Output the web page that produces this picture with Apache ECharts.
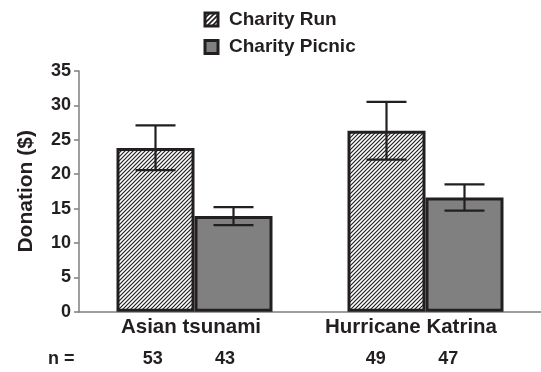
<!DOCTYPE html>
<html>
<head>
<meta charset="utf-8">
<script src="https://cdn.jsdelivr.net/npm/echarts@6/dist/echarts.min.js"></script>
<style>
  html, body { margin: 0; padding: 0; background: #fff; }
  #chart { width: 541px; height: 372px; }
</style>
</head>
<body>
<div id="chart"></div>
<script>
// Mean donations per event, with error bar bounds and group sizes
var categories = ['Asian tsunami', 'Hurricane Katrina'];
var seriesNames = ['Charity Run', 'Charity Picnic'];
var runMeans = [23.8, 26.3];
var runLow = [20.6, 22.1];
var runHigh = [27.1, 30.5];
var picnicMeans = [13.9, 16.6];
var picnicLow = [12.6, 14.7];
var picnicHigh = [15.2, 18.5];
var groupSizes = [53, 43, 49, 47];
var yTicks = [0, 5, 10, 15, 20, 25, 30, 35];

var INK = '#231f20';
var FONT = '"Liberation Sans", Arial, Helvetica, sans-serif';
var BAR_W = 78;

// Diagonal hatch tile for the run bars
function hatchTile(size, lw) {
  var c = document.createElement('canvas');
  c.width = size; c.height = size;
  var ctx = c.getContext('2d');
  ctx.fillStyle = '#fff';
  ctx.fillRect(0, 0, size, size);
  ctx.strokeStyle = INK;
  ctx.lineWidth = lw;
  ctx.beginPath();
  ctx.moveTo(0, size); ctx.lineTo(size, 0);
  ctx.moveTo(-1, 1); ctx.lineTo(1, -1);
  ctx.moveTo(size - 1, size + 1); ctx.lineTo(size + 1, size - 1);
  ctx.stroke();
  return c;
}
var hatch = { image: hatchTile(4, 1.2), repeat: 'repeat' };
var legendHatch = { image: hatchTile(5, 1.6), repeat: 'repeat' };

// Error bars: [categoryIndex, low, high, side(-1 left bar, +1 right bar)]
var errData = [];
for (var i = 0; i < categories.length; i++) {
  errData.push([i, runLow[i], runHigh[i], -1]);
  errData.push([i, picnicLow[i], picnicHigh[i], 1]);
}

function renderErr(params, api) {
  var ci = api.value(0);
  var side = api.value(3);
  var lo = api.coord([ci, api.value(1)]);
  var hi = api.coord([ci, api.value(2)]);
  var x = lo[0] + side * BAR_W / 2;
  var cap = 20;
  var style = { stroke: INK, lineWidth: 2.2, fill: null };
  return {
    type: 'group',
    children: [
      { type: 'line', shape: { x1: x, y1: hi[1], x2: x, y2: lo[1] }, style: style },
      { type: 'line', shape: { x1: x - cap, y1: hi[1], x2: x + cap, y2: hi[1] }, style: style },
      { type: 'line', shape: { x1: x - cap, y1: lo[1], x2: x + cap, y2: lo[1] }, style: style }
    ]
  };
}

// Sample-size row under the axis
var nLabelX = [152.7, 225, 375.7, 448.3];
var nRowY = 359;
var graphics = [{
  type: 'text', x: 48, y: nRowY,
  style: { text: 'n =', font: 'bold 18px ' + FONT, fill: INK, verticalAlign: 'middle' }
}];
groupSizes.forEach(function (n, k) {
  graphics.push({
    type: 'text', x: nLabelX[k], y: nRowY,
    style: { text: String(n), font: 'bold 18px ' + FONT, fill: INK, align: 'center', verticalAlign: 'middle' }
  });
});

var chart = echarts.init(document.getElementById('chart'), null, { renderer: 'canvas' });
chart.setOption({
  animation: false,
  backgroundColor: '#fff',
  textStyle: { fontFamily: FONT },
  grid: { left: 79, top: 71, width: 464, height: 240.7, containLabel: false },
  legend: {
    data: [
      { name: seriesNames[0], itemStyle: { color: legendHatch } },
      { name: seriesNames[1] }
    ],
    orient: 'vertical',
    left: 198.5, top: 5,
    itemWidth: 13, itemHeight: 13, itemGap: 8.5,
    icon: 'rect',
    itemStyle: { borderColor: INK, borderWidth: 3 },
    textStyle: { fontSize: 19, fontWeight: 'bold', color: INK, fontFamily: FONT, padding: [0, 0, 0, 6] }
  },
  xAxis: {
    type: 'category',
    data: categories,
    axisLine: { lineStyle: { color: '#7f7f7f', width: 1.5 } },
    axisTick: { show: false },
    axisLabel: {
      margin: 5,
      formatter: function (v, idx) { return '{c' + idx + '|' + v + '}'; },
      rich: {
        c0: { fontSize: 20.5, fontWeight: 'bold', color: INK, fontFamily: FONT, padding: [0, 7, 0, 0] },
        c1: { fontSize: 20.5, fontWeight: 'bold', color: INK, fontFamily: FONT, padding: [0, 29, 0, 0] }
      }
    }
  },
  yAxis: {
    type: 'value',
    min: yTicks[0], max: yTicks[yTicks.length - 1], interval: yTicks[1] - yTicks[0],
    name: 'Donation ($)',
    nameLocation: 'middle',
    nameGap: 42,
    nameTextStyle: { fontSize: 21, fontWeight: 'bold', color: INK, fontFamily: FONT },
    splitLine: { show: false },
    axisLine: { show: true, lineStyle: { color: '#7f7f7f', width: 1.5 } },
    axisTick: { show: true, length: 5, lineStyle: { color: '#7f7f7f', width: 1.5 } },
    axisLabel: { margin: 8, fontSize: 18, fontWeight: 'bold', color: INK, fontFamily: FONT }
  },
  series: [
    {
      name: seriesNames[0], type: 'bar', data: runMeans,
      barWidth: BAR_W, barGap: '0%',
      itemStyle: { color: hatch, borderColor: INK, borderWidth: 3 }
    },
    {
      name: seriesNames[1], type: 'bar', data: picnicMeans,
      barWidth: BAR_W, barGap: '0%',
      itemStyle: { color: '#808081', borderColor: INK, borderWidth: 3 }
    },
    {
      type: 'custom', data: errData, renderItem: renderErr, z: 10,
      encode: { x: 0, y: [1, 2] }, silent: true
    }
  ],
  graphic: graphics
});
</script>
</body>
</html>
